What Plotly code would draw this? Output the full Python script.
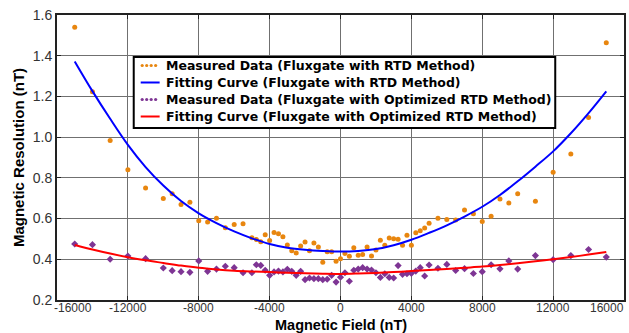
import plotly.graph_objects as go

# ---------------- data ----------------
rtd_x = [-15000, -14000, -13000, -12000, -11000, -10000, -9500, -9000, -8500, -8000,
         -7500, -7000, -6500, -6000, -5500, -5000, -4750, -4500, -4250, -4000,
         -3750, -3500, -3250, -3000, -2750, -2500, -2250, -2000, -1750, -1500,
         -1250, -1000, -750, -500, -250, 0, 250, 500, 750, 1000,
         1250, 1500, 1750, 2000, 2250, 2500, 2750, 3000, 3250, 3500,
         3750, 4000, 4250, 4500, 4750, 5000, 5500, 6000, 6500, 7000,
         7500, 8000, 8500, 9000, 9500, 10000, 11000, 12000, 13000, 14000, 15000]
rtd_y = [1.540, 1.223, 0.983, 0.840, 0.750, 0.698, 0.722, 0.669, 0.680, 0.589,
         0.583, 0.601, 0.555, 0.571, 0.574, 0.506, 0.497, 0.486, 0.521, 0.492,
         0.531, 0.526, 0.511, 0.470, 0.442, 0.431, 0.465, 0.485, 0.442, 0.480,
         0.460, 0.385, 0.437, 0.437, 0.390, 0.403, 0.429, 0.415, 0.457, 0.420,
         0.423, 0.460, 0.416, 0.446, 0.494, 0.469, 0.505, 0.501, 0.498, 0.469,
         0.518, 0.469, 0.530, 0.540, 0.554, 0.577, 0.601, 0.596, 0.593, 0.642,
         0.624, 0.586, 0.612, 0.696, 0.676, 0.722, 0.685, 0.827, 0.917, 1.097, 1.464]

opt_y = [0.475, 0.472, 0.400, 0.416, 0.403, 0.357, 0.344, 0.339, 0.336, 0.392,
         0.341, 0.352, 0.366, 0.359, 0.334, 0.334, 0.373, 0.370, 0.346, 0.321,
         0.338, 0.342, 0.338, 0.351, 0.341, 0.321, 0.341, 0.300, 0.308, 0.305,
         0.305, 0.300, 0.302, 0.321, 0.288, 0.312, 0.334, 0.292, 0.346, 0.352,
         0.359, 0.352, 0.347, 0.334, 0.311, 0.329, 0.311, 0.308, 0.369, 0.326,
         0.329, 0.331, 0.342, 0.359, 0.318, 0.372, 0.356, 0.375, 0.345, 0.354,
         0.330, 0.339, 0.373, 0.353, 0.392, 0.352, 0.418, 0.398, 0.418, 0.448, 0.411]

fit_x = [-15000, -14000, -13000, -12000, -11000, -10000, -9000, -8000, -7000, -6000,
         -5000, -4000, -3000, -2000, -1000, 0, 1000, 2000, 3000, 4000,
         5000, 6000, 7000, 8000, 9000, 10000, 11000, 12000, 13000, 14000, 15000]
fit_rtd_y = [1.372, 1.226, 1.090, 0.962, 0.853, 0.762, 0.686, 0.626, 0.578, 0.537,
             0.503, 0.475, 0.457, 0.447, 0.441, 0.438, 0.441, 0.450, 0.469, 0.496,
             0.530, 0.567, 0.610, 0.658, 0.716, 0.783, 0.855, 0.930, 1.019, 1.118, 1.225]
fit_opt_y = [0.470, 0.448, 0.428, 0.410, 0.395, 0.382, 0.369, 0.358, 0.350, 0.344,
             0.340, 0.337, 0.334, 0.331, 0.329, 0.328, 0.330, 0.333, 0.337, 0.342,
             0.347, 0.352, 0.358, 0.364, 0.372, 0.381, 0.390, 0.400, 0.411, 0.423, 0.436]

x_ticks = [-16000, -12000, -8000, -4000, 0, 4000, 8000, 12000, 16000]
x_tick_text = ["-16000", "-12000", "-8000", "-4000", "0", "4000", "8000", "12000", "16000"]
y_ticks = [0.2, 0.4, 0.6, 0.8, 1.0, 1.2, 1.4, 1.6]
y_tick_text = ["0.2", "0.4", "0.6", "0.8", "1.0", "1.2", "1.4", "1.6"]

x_title = "Magnetic Field (nT)"
y_title = "Magnetic Resolution (nT)"
names = ["Measured Data (Fluxgate with RTD Method)",
         "Fitting Curve (Fluxgate with RTD Method)",
         "Measured Data (Fluxgate with Optimized RTD Method)",
         "Fitting Curve (Fluxgate with Optimized RTD Method)"]

FONT = "Liberation Sans, Arial, sans-serif"
LEG_FONT = "DejaVu Sans, Verdana, sans-serif"
ORANGE = "#E8860F"
PURPLE = "#7E3594"
BLUE = "#0000FF"
RED = "#FF0000"

W, H = 629, 333
ML, MR, MT, MB = 57, 3, 15, 33
PW, PH = W - ML - MR, H - MT - MB


def px(xp):
    return (xp - ML) / PW


def py(yp):
    return (H - MB - yp) / PH


fig = go.Figure()
fig.add_trace(go.Scatter(x=rtd_x, y=rtd_y, mode="markers", name=names[0],
                         marker=dict(color=ORANGE, size=5, symbol="circle")))
fig.add_trace(go.Scatter(x=fit_x, y=fit_rtd_y, mode="lines", name=names[1],
                         line=dict(color=BLUE, width=2, shape="spline")))
fig.add_trace(go.Scatter(x=rtd_x, y=opt_y, mode="markers", name=names[2],
                         marker=dict(color=PURPLE, size=5.5, symbol="diamond")))
fig.add_trace(go.Scatter(x=fit_x, y=fit_opt_y, mode="lines", name=names[3],
                         line=dict(color=RED, width=2, shape="spline")))

fig.update_layout(
    width=W, height=H,
    margin=dict(l=ML, r=MR, t=MT, b=MB),
    paper_bgcolor="white", plot_bgcolor="white",
    font=dict(family=FONT, size=13, color="#333333"),
    showlegend=False,
    xaxis=dict(range=[-16000, 16000], tickvals=x_ticks, showticklabels=False,
               showgrid=True, gridcolor="#707070", gridwidth=1,
               zeroline=False, showline=True, linecolor="#222222", linewidth=2,
               mirror="ticks", ticks="inside", ticklen=4, tickcolor="#222222"),
    yaxis=dict(range=[0.2, 1.6], tickvals=y_ticks, ticktext=y_tick_text,
               showgrid=True, gridcolor="#707070", gridwidth=1,
               zeroline=False, showline=True, linecolor="#222222", linewidth=2,
               mirror="ticks", ticks="inside", ticklen=4, tickcolor="#222222",
               tickfont=dict(size=14, color="#333333"),
               title=dict(text=y_title, standoff=4,
                          font=dict(size=15, color="black", weight="bold"))),
)

# x tick labels placed snugly under the axis (end labels nudged inwards as in the reference)
shifts = {0: 16, len(x_ticks) - 1: -17}
for i, (tv, tt) in enumerate(zip(x_ticks, x_tick_text)):
    fig.add_annotation(x=tv, y=0, xref="x", yref="paper", yanchor="top",
                       xanchor="center", text=tt, showarrow=False, borderpad=0,
                       xshift=shifts.get(i, 0), yshift=0,
                       font=dict(size=12, color="#333333"))

# x-axis title at the bottom edge
fig.add_annotation(x=0.5, y=py(H), xref="paper", yref="paper",
                   xanchor="center", yanchor="bottom", showarrow=False,
                   text=x_title, borderpad=0, yshift=-1,
                   font=dict(size=14.5, color="black", weight="bold"))

# ---------------- legend (drawn manually to match the compact box) ----------------
fig.add_shape(type="rect", xref="paper", yref="paper",
              x0=px(134), x1=px(557), y0=py(128), y1=py(57),
              fillcolor="white", line=dict(color="black", width=2), layer="above")
row_y = [65.5, 82.5, 99.5, 116.5]
styles = [("dots", ORANGE), ("line", BLUE), ("dots", PURPLE), ("line", RED)]
for name, yc, (kind, col) in zip(names, row_y, styles):
    if kind == "line":
        fig.add_shape(type="line", xref="paper", yref="paper",
                      x0=px(141), x1=px(160), y0=py(yc), y1=py(yc),
                      line=dict(color=col, width=2), layer="above")
    else:
        for xd in [142.5, 147.0, 151.5, 156.0]:
            fig.add_shape(type="circle", xref="paper", yref="paper",
                          x0=px(xd - 1.6), x1=px(xd + 1.6),
                          y0=py(yc + 1.6), y1=py(yc - 1.6),
                          fillcolor=col, line=dict(width=0), layer="above")
    fig.add_annotation(x=px(164), y=py(yc), xref="paper", yref="paper",
                       xanchor="left", yanchor="middle", showarrow=False,
                       text=name,
                       font=dict(family=LEG_FONT, size=12.5, color="black",
                                 weight="bold"))

fig.write_html("out.html")
